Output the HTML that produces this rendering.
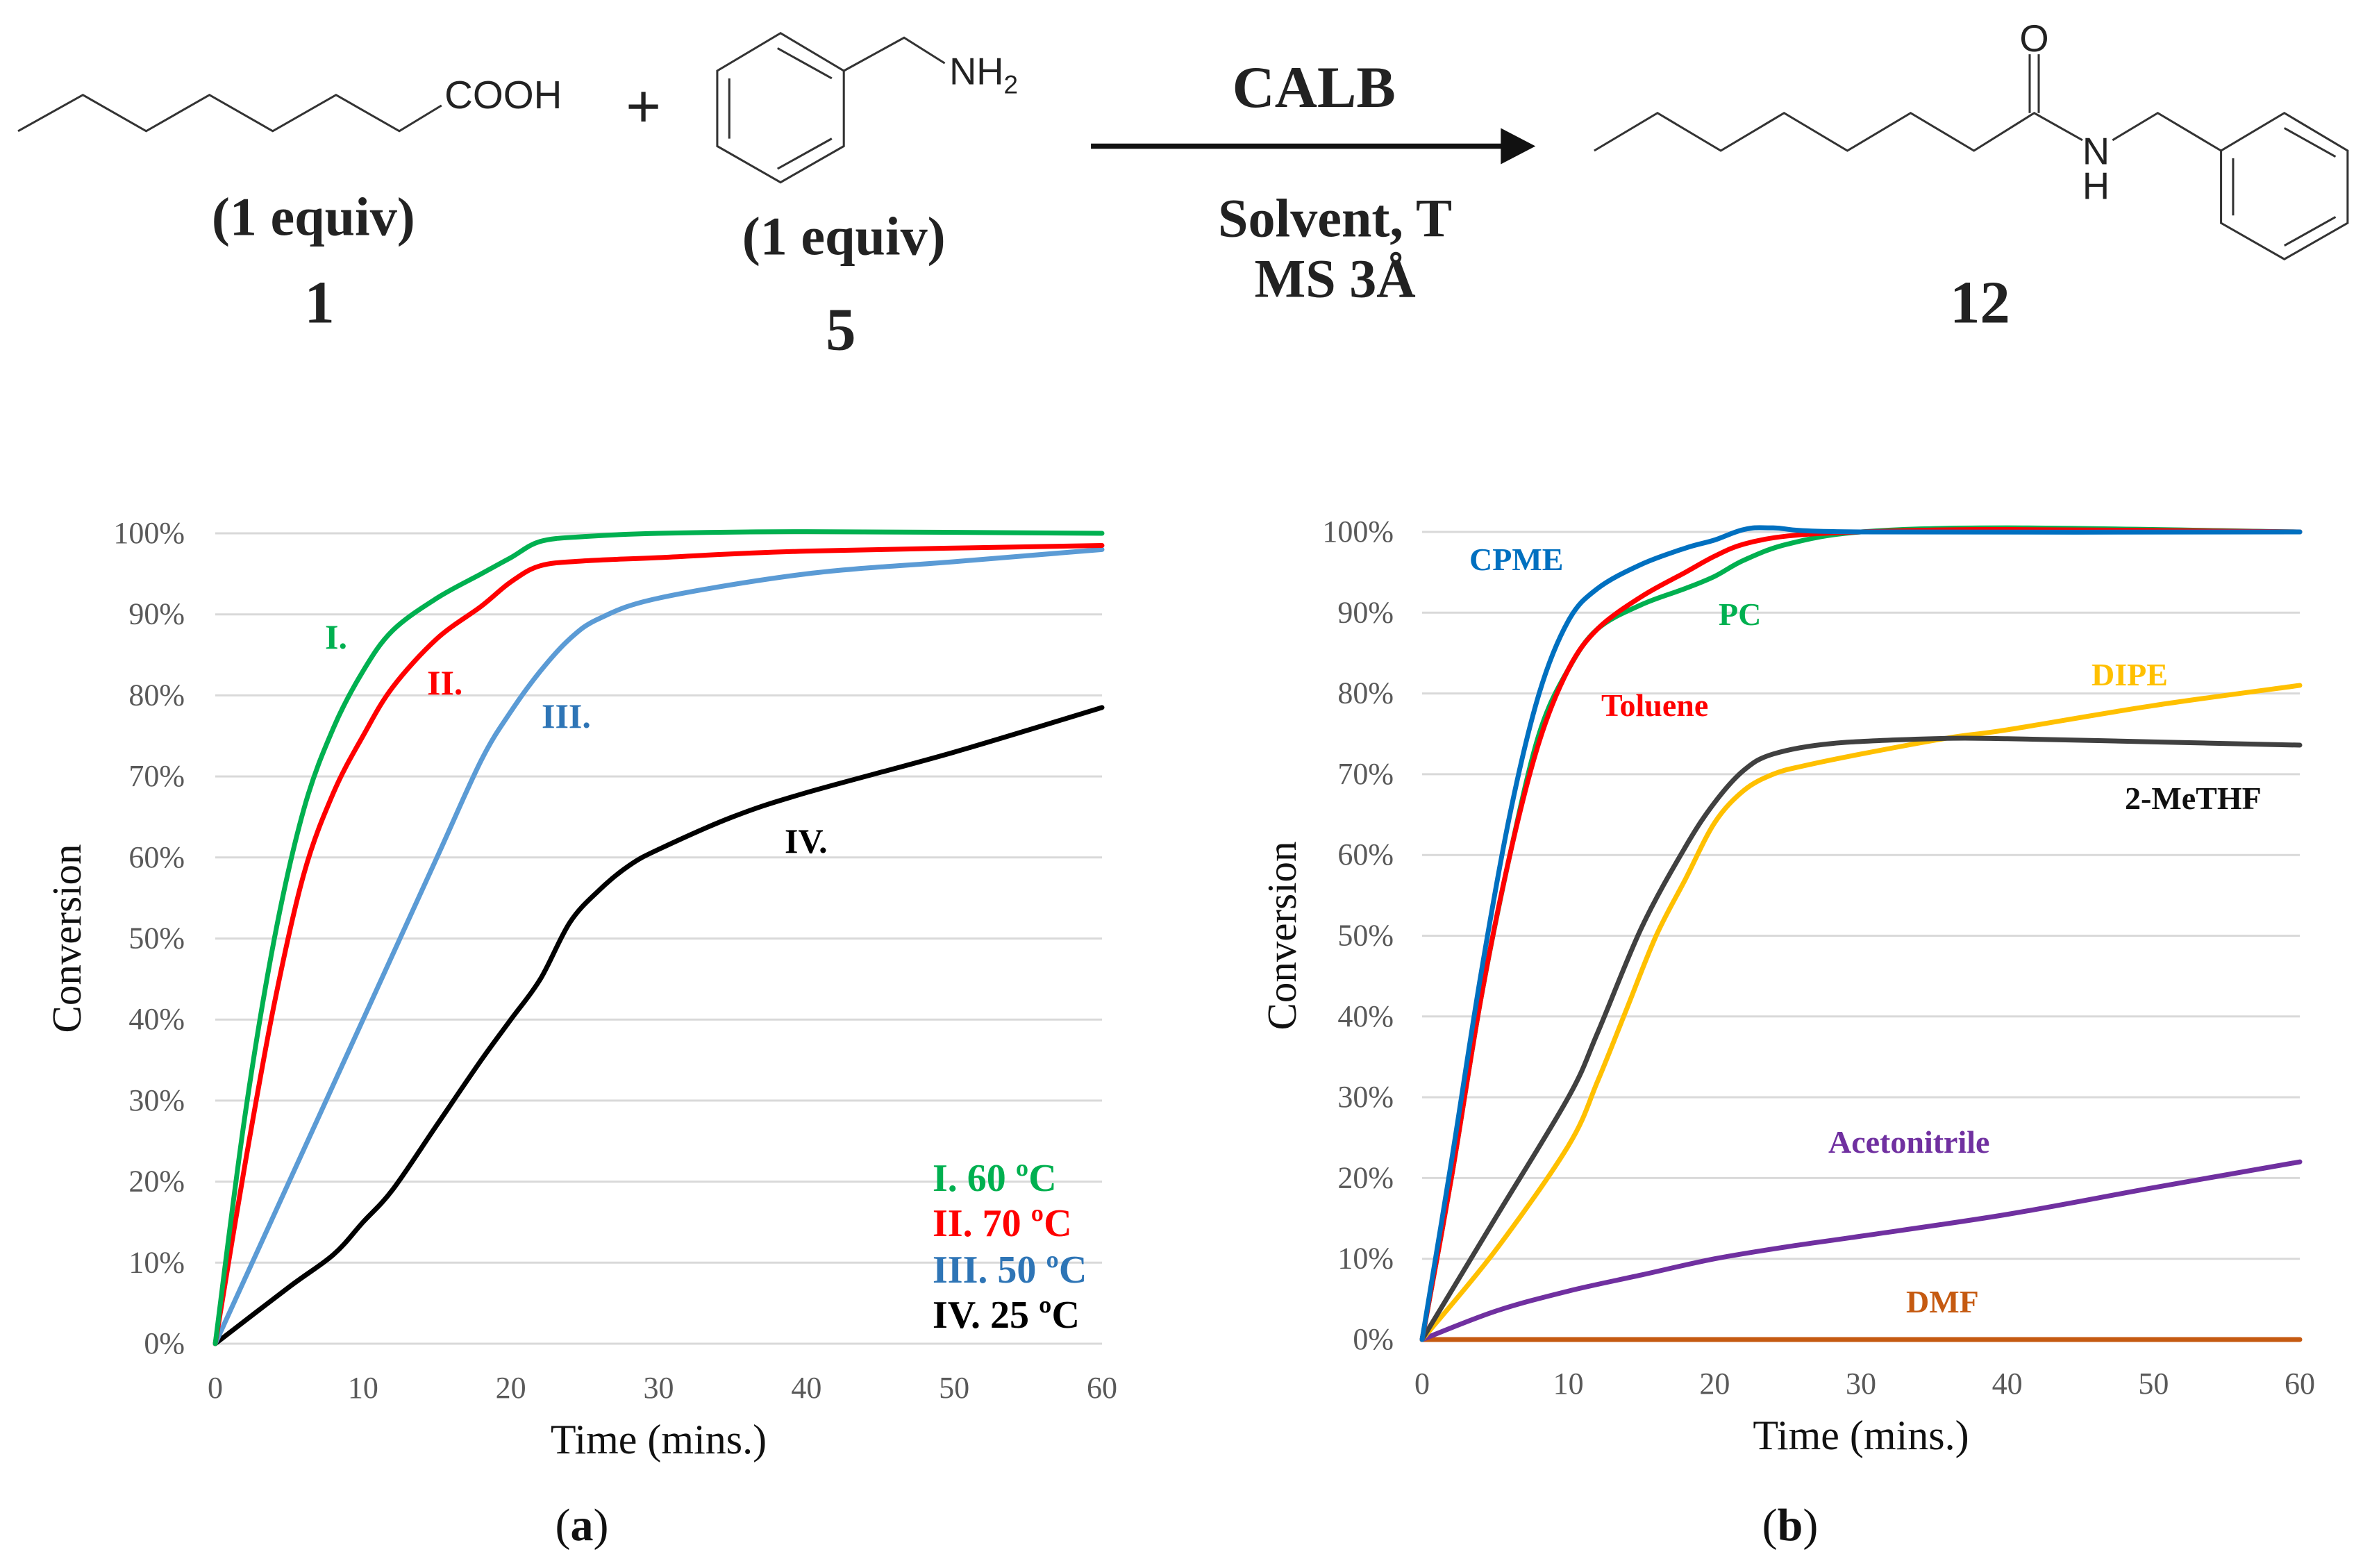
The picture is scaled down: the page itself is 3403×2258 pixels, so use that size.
<!DOCTYPE html>
<html><head><meta charset="utf-8"><style>
html,body{margin:0;padding:0;background:#fff;}
svg{display:block}
</style></head><body>
<svg id="fig" width="3403" height="2258" viewBox="0 0 3403 2258" xmlns="http://www.w3.org/2000/svg">
<g transform="scale(2.17)" fill="none" stroke="#333" stroke-width="1.4">
  <polyline points="12,87 55,63 97,87 139,63 181,87 223,63 265,87 293,70"/>
  <text x="295" y="72" font-family="Liberation Sans, sans-serif" font-size="26" fill="#222" stroke="none">COOH</text>
  <text x="427" y="84" text-anchor="middle" font-family="Liberation Sans, sans-serif" font-size="40" fill="#222" stroke="none">+</text>
  <polygon points="518,22 560,47 560,97 518,121 476,97 476,47"/>
  <polyline points="516,32 552,52"/>
  <polyline points="552,92 516,112"/>
  <polyline points="484,52 484,92"/>
  <polyline points="560,47 600,25 627,42"/>
  <text x="630" y="56" font-family="Liberation Sans, sans-serif" font-size="25" fill="#222" stroke="none">NH<tspan font-size="17" dy="6">2</tspan></text>
  <text x="208" y="156" text-anchor="middle" font-family="Liberation Serif, serif" font-weight="bold" font-size="36" fill="#222" stroke="none">(1 equiv)</text>
  <text x="212" y="214" text-anchor="middle" font-family="Liberation Serif, serif" font-weight="bold" font-size="40" fill="#222" stroke="none">1</text>
  <text x="560" y="169" text-anchor="middle" font-family="Liberation Serif, serif" font-weight="bold" font-size="36" fill="#222" stroke="none">(1 equiv)</text>
  <text x="558" y="232" text-anchor="middle" font-family="Liberation Serif, serif" font-weight="bold" font-size="40" fill="#222" stroke="none">5</text>
  <line x1="724" y1="97" x2="998" y2="97" stroke="#111" stroke-width="3.5"/>
  <polygon points="996,85 1019,97 996,109" fill="#111" stroke="none"/>
  <text x="872" y="71" text-anchor="middle" font-family="Liberation Serif, serif" font-weight="bold" font-size="39" fill="#222" stroke="none">CALB</text>
  <text x="886" y="157" text-anchor="middle" font-family="Liberation Serif, serif" font-weight="bold" font-size="36" fill="#222" stroke="none">Solvent, T</text>
  <text x="886" y="197" text-anchor="middle" font-family="Liberation Serif, serif" font-weight="bold" font-size="36" fill="#222" stroke="none">MS 3Å</text>
  <polyline points="1058,100 1100,75 1142,100 1184,75 1226,100 1268,75 1310,100 1350,75 1382,93"/>
  <line x1="1347" y1="75" x2="1347" y2="36"/>
  <line x1="1353" y1="75" x2="1353" y2="36"/>
  <text x="1350" y="34" text-anchor="middle" font-family="Liberation Sans, sans-serif" font-size="25" fill="#222" stroke="none">O</text>
  <text x="1391" y="109" text-anchor="middle" font-family="Liberation Sans, sans-serif" font-size="25" fill="#222" stroke="none">N</text>
  <text x="1391" y="132" text-anchor="middle" font-family="Liberation Sans, sans-serif" font-size="25" fill="#222" stroke="none">H</text>
  <polyline points="1402,93 1432,75 1474,100"/>
  <polygon points="1516,75 1558,100 1558,148 1516,172 1474,148 1474,100"/>
  <line x1="1516" y1="85" x2="1550" y2="104"/>
  <line x1="1550" y1="144" x2="1516" y2="163"/>
  <line x1="1482" y1="105" x2="1482" y2="143"/>
  <text x="1314" y="214" text-anchor="middle" font-family="Liberation Serif, serif" font-weight="bold" font-size="40" fill="#222" stroke="none">12</text>
</g>
<g id="chartA"></g>
<g id="chartB"></g>
</svg>
<script>
const xTicks = [0,10,20,30,40,50,60];
const yTicks = [0,10,20,30,40,50,60,70,80,90,100];
// Chart (a)
const aTimeI = [0,2,4,6,8,10,12,15,18,20,22,25,30,40,60];
const aValI  = [0,28,50,66,76,83,88,92,95,97,99,99.6,100,100.2,100];
const aTimeII = [0,2,4,6,8,10,12,15,18,20,22,25,30,40,60];
const aValII  = [0,22,42,58,68,75,81,87,91,94,96,96.6,97,97.8,98.5];
const aTimeIII = [0,5,10,15,18,20,22,24,26,30,40,50,60];
const aValIII  = [0,20,40,60,72,78,83,87,89.5,92,95,96.5,98];
const aTimeIV = [0,5,8,10,12,15,18,20,22,24,26,28,30,35,40,50,60];
const aValIV  = [0,7,11,15,19,27,35,40,45,52,56,59,61,65,68,73,78.5];
// Chart (b)
const bTimeCPME = [0,2,4,6,8,10,12,15,18,20,22,24,30,60];
const bValCPME  = [0,22,45,65,80,89,93,96,98,99,100.3,100.5,100,100];
const bTimeTol = [0,2,4,6,8,10,12,15,18,20,22,25,30,40,60];
const bValTol  = [0,20,42,60,74,83,88,92,95,97,98.5,99.5,100,100.3,100];
const bTimePC = [0,2,4,6,8,10,12,15,18,20,22,25,30,40,60];
const bValPC  = [0,20,42,60,75,83,88,91,93,94.5,96.5,98.5,100,100.5,100];
const bTimeMe = [0,5,10,12,15,18,20,22,24,28,35,40,50,60];
const bValMe  = [0,15,30,38,51,61,66.5,70.5,72.5,73.8,74.4,74.4,74,73.6];
const bTimeDIPE = [0,5,10,12,14,16,18,20,22,24,26,30,36,40,50,60];
const bValDIPE  = [0,11,24,32,41,50,57,64,68,70,71,72.5,74.5,75.5,78.5,81];
const bTimeACN = [0,5,10,15,20,25,30,40,50,60];
const bValACN  = [0,3.5,6,8,10,11.5,12.8,15.5,18.8,22];
const bTimeDMF = [0,60];
const bValDMF  = [0,0];

const NS='http://www.w3.org/2000/svg';
function mk(parent,tag,attrs,text){const e=document.createElementNS(NS,tag);for(const k in attrs)e.setAttribute(k,attrs[k]);if(text!==undefined)e.textContent=text;parent.appendChild(e);return e;}
function smooth(pts){let d='M'+pts[0][0]+','+pts[0][1];for(let i=0;i<pts.length-1;i++){const p0=pts[i-1]||pts[i],p1=pts[i],p2=pts[i+1],p3=pts[i+2]||p2;const c1=[p1[0]+(p2[0]-p0[0])/6,p1[1]+(p2[1]-p0[1])/6],c2=[p2[0]-(p3[0]-p1[0])/6,p2[1]-(p3[1]-p1[1])/6];d+=' C'+c1[0]+','+c1[1]+' '+c2[0]+','+c2[1]+' '+p2[0]+','+p2[1];}return d;}
function chart(g,ax,series,labels,letter,lx){
  const X=t=>ax.x0+(ax.x1-ax.x0)*t/60, Y=v=>ax.y0-(ax.y0-ax.y1)*v/100;
  const F='Liberation Serif, serif';
  yTicks.forEach(v=>{
    const l=mk(g,'line',{x1:X(0),x2:X(60),y1:Y(v),y2:Y(v),stroke:'#d9d9d9','stroke-width':3});
    
    
    const t=mk(g,'text',{x:ax.lab,y:Y(v)+14,'text-anchor':'end','font-family':F,'font-size':44,fill:'#595959'},v+'%');
    
    
  });
  xTicks.forEach(v=>{
    const t=mk(g,'text',{x:X(v),y:ax.y0+78,'text-anchor':'middle','font-family':F,'font-size':44,fill:'#595959'},v);
    
    
  });
  const yt=mk(g,'text',{x:0,y:0,transform:'translate('+(ax.ytx)+','+((ax.y0+ax.y1)/2)+') rotate(-90)','text-anchor':'middle','font-family':F,'font-size':59,fill:'#111'},'Conversion');
  
  
  const xt=mk(g,'text',{x:(ax.x0+ax.x1)/2,y:ax.y0+158,'text-anchor':'middle','font-family':F,'font-size':60,fill:'#111'},'Time (mins.)');
  
  
  series.forEach(s=>{
    const p=mk(g,'path',{d:smooth(s.t.map((t,i)=>[X(t),Y(s.v[i])])),fill:'none',stroke:s.c,'stroke-width':7,'stroke-linecap':'round','stroke-linejoin':'round'});
    
    
  });
  labels.forEach(l=>{
    const t=mk(g,'text',{x:l.x,y:l.y,'text-anchor':l.a||'start','font-family':F,'font-weight':'bold','font-size':l.s||46,fill:l.c},l.t);
    
    
  });
  const pl=mk(g,'text',{x:lx,y:2218,'text-anchor':'middle','font-family':F,'font-size':66,fill:'#111'});
  
  
  pl.innerHTML='(<tspan font-weight="bold">'+letter+'</tspan>)';
}
chart(document.getElementById('chartA'),{x0:310,x1:1587,y0:1935,y1:768,lab:266,ytx:116},[
  {n:'series-iv-25c',t:aTimeIV,v:aValIV,c:'#000'},
  {n:'series-iii-50c',t:aTimeIII,v:aValIII,c:'#5b9bd5'},
  {n:'series-ii-70c',t:aTimeII,v:aValII,c:'#ff0000'},
  {n:'series-i-60c',t:aTimeI,v:aValI,c:'#00b050'}
],[
  {n:'label-i',t:'I.',x:468,y:934,c:'#00b050',s:50},
  {n:'label-ii',t:'II.',x:615,y:1000,c:'#ff0000',s:50},
  {n:'label-iii',t:'III.',x:780,y:1048,c:'#2e75b6',s:50},
  {n:'label-iv',t:'IV.',x:1130,y:1228,c:'#000',s:50},
  {n:'legend-i-60c',t:'I. 60 ºC',x:1343,y:1715,c:'#00b050',s:56},
  {n:'legend-ii-70c',t:'II. 70 ºC',x:1343,y:1780,c:'#ff0000',s:56},
  {n:'legend-iii-50c',t:'III. 50 ºC',x:1343,y:1847,c:'#2e75b6',s:56},
  {n:'legend-iv-25c',t:'IV. 25 ºC',x:1343,y:1912,c:'#000',s:56}
],'a',838);
chart(document.getElementById('chartB'),{x0:2048,x1:3312,y0:1929,y1:766,lab:2007,ytx:1866},[
  {n:'series-dmf',t:bTimeDMF,v:bValDMF,c:'#c55a11'},
  {n:'series-acetonitrile',t:bTimeACN,v:bValACN,c:'#7030a0'},
  {n:'series-dipe',t:bTimeDIPE,v:bValDIPE,c:'#ffc000'},
  {n:'series-2-methf',t:bTimeMe,v:bValMe,c:'#404040'},
  {n:'series-pc',t:bTimePC,v:bValPC,c:'#00b050'},
  {n:'series-toluene',t:bTimeTol,v:bValTol,c:'#ff0000'},
  {n:'series-cpme',t:bTimeCPME,v:bValCPME,c:'#0070c0'}
],[
  {n:'label-cpme',t:'CPME',x:2116,y:821,c:'#0070c0'},
  {n:'label-pc',t:'PC',x:2475,y:900,c:'#00b050'},
  {n:'label-toluene',t:'Toluene',x:2306,y:1031,c:'#ff0000'},
  {n:'label-dipe',t:'DIPE',x:3012,y:987,c:'#ffc000'},
  {n:'label-2-methf',t:'2-MeTHF',x:3060,y:1165,c:'#111'},
  {n:'label-acetonitrile',t:'Acetonitrile',x:2633,y:1660,c:'#7030a0'},
  {n:'label-dmf',t:'DMF',x:2745,y:1890,c:'#c55a11'}
],'b',2578);
</script>
</body></html>
